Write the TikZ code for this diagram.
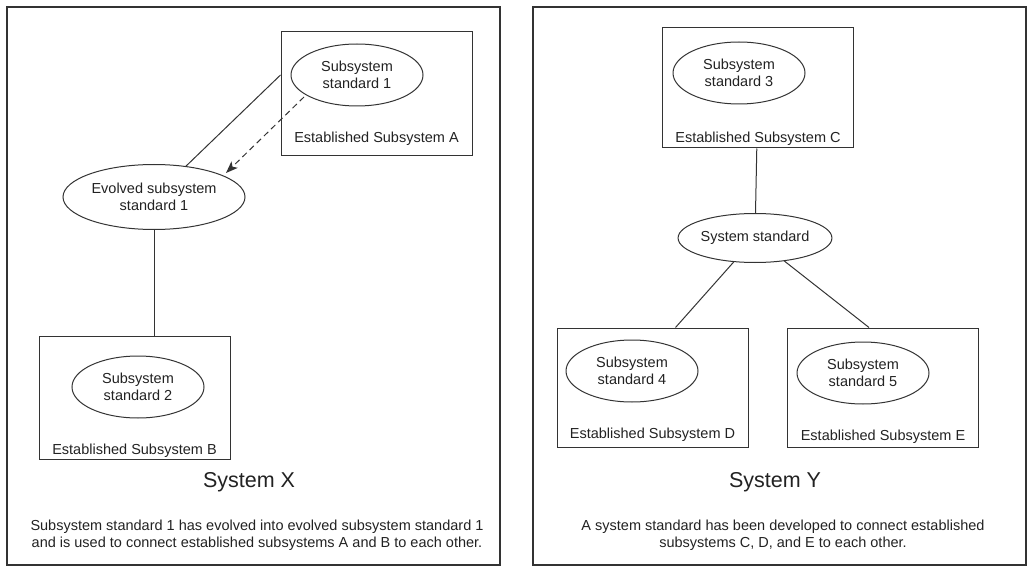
\documentclass[tikz,border=0pt]{standalone}
\usepackage{fontspec}
\setmainfont{Liberation Sans}
\usetikzlibrary{shapes, arrows.meta}
\definecolor{ink}{HTML}{333333}
\definecolor{txt}{HTML}{222222}
\tikzset{
    normal/.style={draw=ink, line width=1pt, text=txt},
    n/.style={style=normal, ellipse, inner sep=0pt, minimum width=132pt, minimum height=62pt, align=center, font=\fontsize{14.5}{17}\selectfont}, % subsystem standards
    l/.style={style=normal, rectangle, inner sep=0pt, minimum width=191pt, minimum height=120pt}, % established subsystems
    lab/.style={anchor=base, text=txt, inner sep=0pt, font=\fontsize{14.5}{17}\selectfont},
    frame/.style={draw=ink, line width=1.5pt},
    title/.style={text=txt, font=\fontsize{21.5}{24}\selectfont},
    note/.style={text=txt, align=center, font=\fontsize{14.5}{17}\selectfont},
    e/.style={style=normal},
    be/.style={style=e, dash pattern=on 6pt off 4pt, ->, >={Stealth[length=12pt, width=9pt, inset=3pt]}} % evolution edge
}
\begin{document}
\begin{tikzpicture}[x=1pt, y=-1pt]
        \useasboundingbox (0,0) rectangle (1028,572);
        \draw[frame] (7,7) rectangle (500,565);
        \draw[frame] (533,7) rectangle (1026,565);

        % System X
        \node[l, minimum height=124pt, label={[lab, yshift=14pt]south:Established Subsystem A}] (A) at (376.5,94) {};
        \node[n] (S1) at (357,75) {Subsystem\\standard 1};
        \node[n, minimum width=182pt, minimum height=65pt] (ES1) at (154,197) {Evolved subsystem\\standard 1};
        \node[l, minimum height=123pt, label={[lab, yshift=5pt]south:Established Subsystem B}] (B) at (134.5,397.5) {};
        \node[n] (S2) at (138,387) {Subsystem\\standard 2};
        \node[title] (TX) at (249,482) {System X};
        \node[note] (NX) at (257,535)
        {Subsystem standard 1 has evolved into evolved subsystem standard 1\\and is used to connect established subsystems A and B to each other.};

        \draw[e] ([yshift=19pt]A.west) -- (ES1);
        \draw[be] ([xshift=-53pt, yshift=-22pt]S1.center) -- ([xshift=72pt, yshift=24pt]ES1.center);
        \draw[e] (ES1) -- (ES1 |- B.north);

        % System Y
        \node[l, label={[lab, yshift=6pt]south:Established Subsystem C}] (C) at (758,88) {};
        \node[n] (S3) at (739,73) {Subsystem\\standard 3};
        \node[n, minimum height=49pt] (SS) at (755,238) {System standard};
        \node[l, minimum height=119pt, label={[lab, yshift=9pt]south:Established Subsystem D}] (D) at (652.5,387.5) {};
        \node[n] (S4) at (632,371) {Subsystem\\standard 4};
        \node[l, minimum height=119pt, label={[lab, yshift=7pt]south:Established Subsystem E}] (E) at (883,387.5) {};
        \node[n] (S5) at (863,373) {Subsystem\\standard 5};
        \node[title] (TY) at (775,482) {System Y};
        \node[note] (NY) at (783,535)
        {A system standard has been developed to connect established\\subsystems C, D, and E to each other.};

        \draw[e] (C) -- (SS);
        \draw[e] (SS) -- ([xshift=23pt]D.north);
        \draw[e] (SS) -- ([xshift=-14pt]E.north);
      \end{tikzpicture}
\end{document}
